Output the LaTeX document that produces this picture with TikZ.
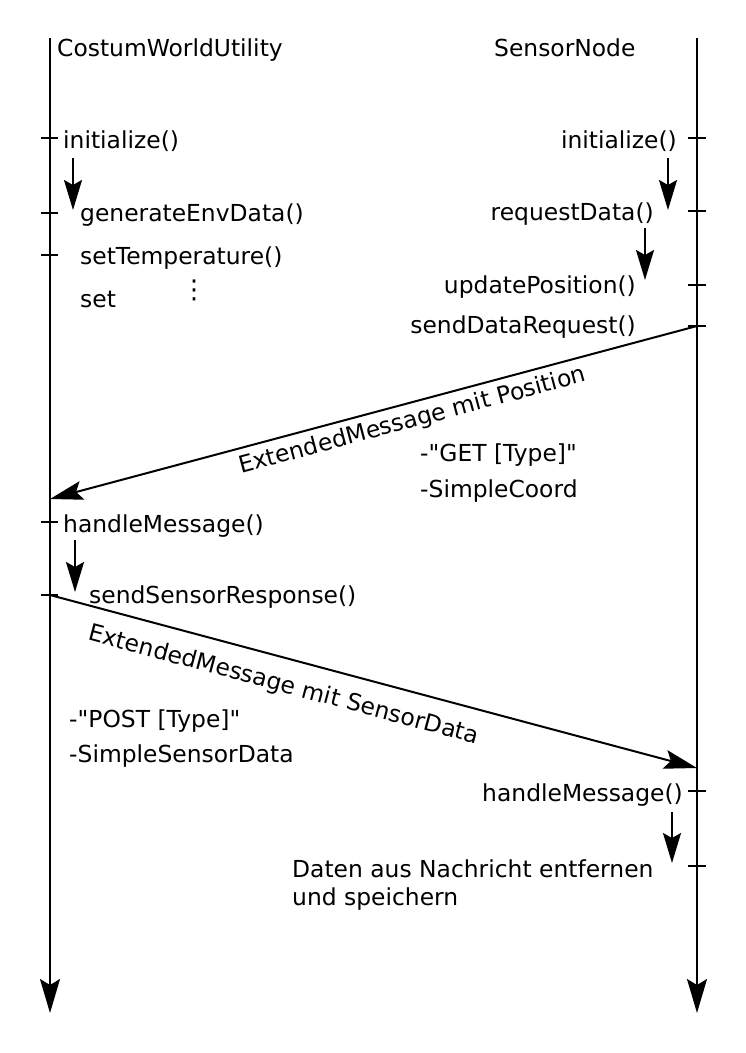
\documentclass[tikz,border=0pt]{standalone}
\usepackage{fontspec}
\setmainfont{DejaVu Sans}[Ligatures=TeXOff]
\usetikzlibrary{arrows.meta}
\begin{document}
\begin{tikzpicture}[x=1pt,y=-1pt,
  txt/.style={inner sep=0pt, font=\fontsize{23.4}{28}\selectfont},
  lifeline/.style={line width=2pt, -{Stealth[length=34pt,width=20pt,inset=6pt]}},
  tick/.style={line width=1.6pt},
  msg/.style={line width=2pt, -{Stealth[length=33pt,width=19pt,inset=6pt]}},
  small/.style={line width=2pt, -{Stealth[length=30pt,width=18pt,inset=5pt]}},
  lbl/.style={txt, sloped, anchor=north}]
\useasboundingbox (0,0) rectangle (745,1053);
% lifelines
\coordinate (Ltop) at (50,38);
\coordinate (Lbot) at (50,1013);
\coordinate (Rtop) at (697,38);
\coordinate (Rbot) at (697,1013);
\draw[lifeline] (Ltop) -- (Lbot);
\draw[lifeline] (Rtop) -- (Rbot);
% titles
\node[txt, anchor=base west] (t1) at (57,56) {CostumWorldUtility};
\node[txt, anchor=base west] (t2) at (494,56) {SensorNode};
% left ticks
\foreach \y [count=\i] in {138,213,255,522,595}{
  \coordinate (la\i) at (41,\y);
  \coordinate (lb\i) at (58,\y);
  \draw[tick] (la\i) -- (lb\i);
}
% right ticks
\foreach \y [count=\i] in {138,211,285,326,791,866}{
  \coordinate (ra\i) at (688,\y);
  \coordinate (rb\i) at (706,\y);
  \draw[tick] (ra\i) -- (rb\i);
}
% left texts
\node[txt, anchor=base west] (linit) at (63,148) {initialize()};
\node[txt, anchor=base west] (lgen) at (80,221) {generateEnvData()};
\node[txt, anchor=base west] (ltemp) at (80,264) {setTemperature()};
\node[txt, anchor=base west] (lset) at (80,307) {set};
\node[inner sep=0pt, font=\fontsize{26}{26}\selectfont] (dots) at (194,290) {⋮};
\node[txt, anchor=base west] (lhandle) at (63,532) {handleMessage()};
\node[txt, anchor=base west] (lsend) at (89,603) {sendSensorResponse()};
% right texts
\node[txt, anchor=base east] (rinit) at (677,148) {initialize()};
\node[txt, anchor=base east] (rreq) at (654,220) {requestData()};
\node[txt, anchor=base east] (rupd) at (636,293) {updatePosition()};
\node[txt, anchor=base east] (rsend) at (636,333) {sendDataRequest()};
\node[txt, anchor=base east] (rhandle) at (683,801) {handleMessage()};
% small arrows
\coordinate (s1a) at (73,158); \coordinate (s1b) at (73,210);
\coordinate (s2a) at (668,158); \coordinate (s2b) at (668,210);
\coordinate (s3a) at (645,228); \coordinate (s3b) at (645,280);
\coordinate (s4a) at (75,540); \coordinate (s4b) at (75,592);
\coordinate (s5a) at (672,812); \coordinate (s5b) at (672,863);
\draw[small] (s1a) -- (s1b);
\draw[small] (s2a) -- (s2b);
\draw[small] (s3a) -- (s3b);
\draw[small] (s4a) -- (s4b);
\draw[small] (s5a) -- (s5b);
% messages
\coordinate (m1a) at (697,326);
\coordinate (m1b) at (50,499);
\coordinate (m2a) at (50,595);
\coordinate (m2b) at (697,768);
\draw[msg] (m1a) -- (m1b) node[lbl, pos=0.447, inner sep=6pt] (ml1) {ExtendedMessage mit Position};
\draw[msg] (m2a) -- (m2b) node[lbl, pos=0.372, inner sep=15pt] (ml2) {ExtendedMessage mit SensorData};
% message contents
\node[txt, anchor=base west] (get) at (420,461) {-"GET [Type]"};
\node[txt, anchor=base west] (coord) at (420,497) {-SimpleCoord};
\node[txt, anchor=base west] (post) at (69,727) {-"POST [Type]"};
\node[txt, anchor=base west] (ssd) at (69,762) {-SimpleSensorData};
\node[txt, anchor=base west] (dat1) at (292,877) {Daten aus Nachricht entfernen};
\node[txt, anchor=base west] (dat2) at (292,905) {und speichern};
\end{tikzpicture}
\end{document}
